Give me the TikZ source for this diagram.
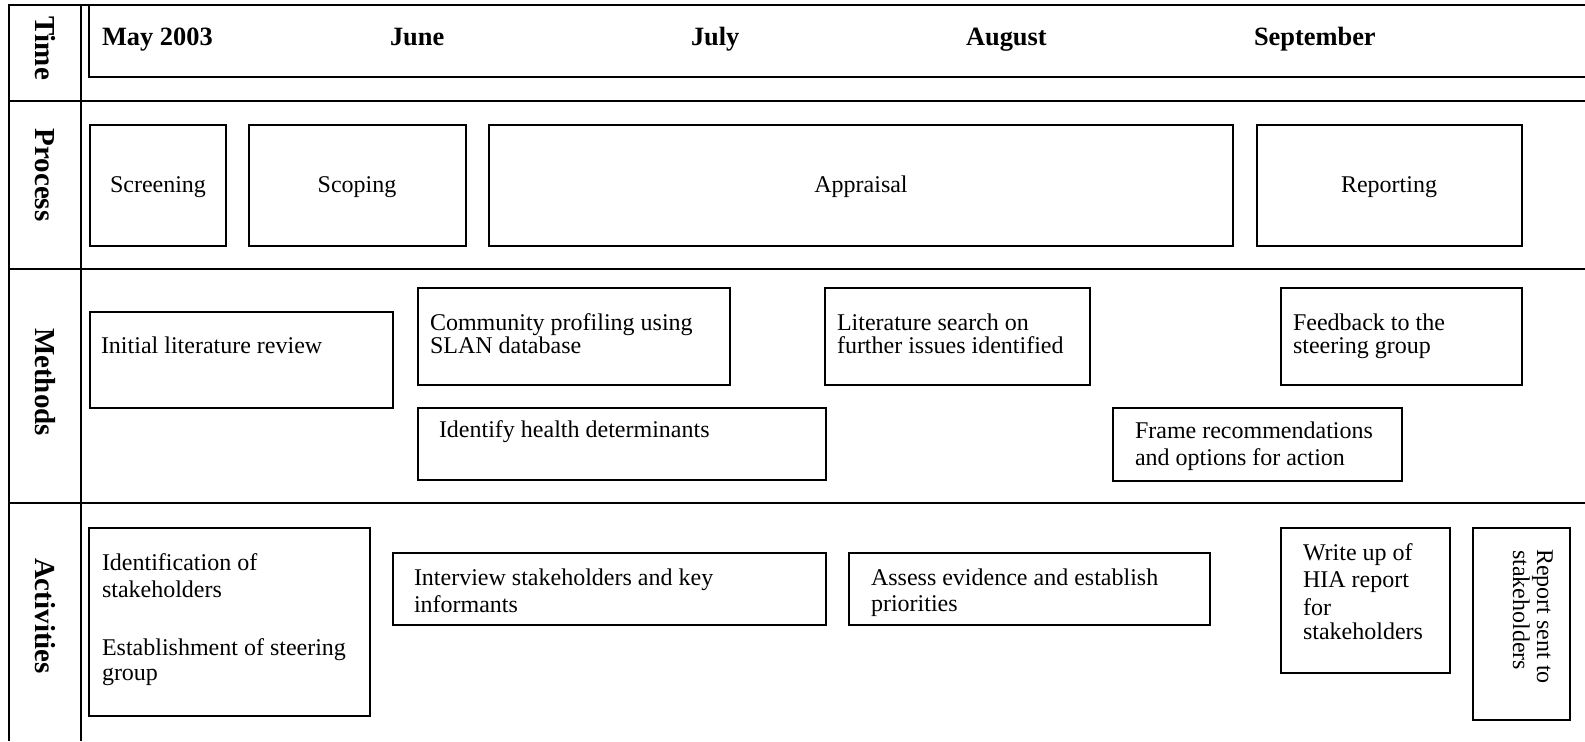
\documentclass[tikz,border=0pt]{standalone}
\usepackage{fontspec}
\setmainfont{Liberation Serif}
\newcommand{\mkbox}[5]{\node[bx, minimum width={(#4-#2)*0.5pt}, minimum height={(#5-#3)*0.5pt}] (#1) at ({(#2+#4)/2},{(#3+#5)/2}) {};}
\begin{document}
\begin{tikzpicture}[x=0.5pt,y=-0.5pt, line width=1pt,
  bx/.style={draw, rectangle, inner sep=0pt, outer sep=0pt},
  txt/.style={inner sep=0pt, anchor=base west, font=\fontsize{12}{14}\selectfont},
  hd/.style={inner sep=0pt, anchor=base west, font=\fontsize{13.2}{15}\selectfont\bfseries},
  lab/.style={inner sep=0pt, rotate=-90, font=\fontsize{14.5}{16}\selectfont\bfseries},
  ctr/.style={inner sep=0pt, anchor=base, font=\fontsize{12}{14}\selectfont},
  rot/.style={inner sep=0pt, anchor=base west, rotate=-90, font=\fontsize{12}{14}\selectfont}]
\useasboundingbox (0,0) rectangle (1585,741);
% grid
\draw (1585,5) -- (9,5) -- (9,741);
\draw (81,5) -- (81,741);
\draw (9,101) -- (1585,101);
\draw (9,269) -- (1585,269);
\draw (9,503) -- (1585,503);
\draw (1585,77) -- (89,77) -- (89,5);
% row labels
\node[lab] (lTime) at (45,48) {Time};
\node[lab] (lProc) at (45,175) {Process};
\node[lab] (lMeth) at (45,382) {Methods};
\node[lab] (lAct) at (45,616) {Activities};
% months
\node[hd] (mMay) at (101,45) {May 2003};
\node[hd] (mJun) at (389,45) {June};
\node[hd] (mJul) at (690,45) {July};
\node[hd] (mAug) at (965,45) {August};
\node[hd] (mSep) at (1253,45) {September};
% process
\mkbox{scr}{90}{125}{226}{246}
\mkbox{scp}{249}{125}{466}{246}
\mkbox{app}{489}{125}{1233}{246}
\mkbox{rep}{1257}{125}{1522}{246}
\node[ctr] (tscr) at (158,192) {Screening};
\node[ctr] (tscp) at (357,192) {Scoping};
\node[ctr] (tapp) at (861,192) {Appraisal};
\node[ctr] (trep) at (1389,192) {Reporting};
% methods
\mkbox{ilr}{90}{312}{393}{408}
\mkbox{cpf}{418}{288}{730}{385}
\mkbox{lsf}{825}{288}{1090}{385}
\mkbox{fbk}{1281}{288}{1522}{385}
\mkbox{ihd}{418}{408}{826}{480}
\mkbox{frm}{1113}{408}{1402}{481}
\node[txt] (tilr) at (100,353) {Initial literature review};
\node[txt] (tcpf1) at (429,330) {Community profiling using};
\node[txt] (tcpf2) at (429,353) {SLAN database};
\node[txt] (tlsf1) at (836,330) {Literature search on};
\node[txt] (tlsf2) at (836,353) {further issues identified};
\node[txt] (tfbk1) at (1292,330) {Feedback to the};
\node[txt] (tfbk2) at (1292,353) {steering group};
\node[txt] (tihd) at (438,437) {Identify health determinants};
\node[txt] (tfrm1) at (1134,438) {Frame recommendations};
\node[txt] (tfrm2) at (1134,465) {and options for action};
% activities
\mkbox{ids}{89}{528}{370}{716}
\mkbox{ivw}{393}{553}{826}{625}
\mkbox{ass}{849}{553}{1210}{625}
\mkbox{wup}{1281}{528}{1450}{673}
\mkbox{rss}{1473}{528}{1570}{720}
\node[txt] (tids1) at (101,570) {Identification of};
\node[txt] (tids2) at (101,597) {stakeholders};
\node[txt] (tids3) at (101,655) {Establishment of steering};
\node[txt] (tids4) at (101,680) {group};
\node[txt] (tivw1) at (413,585) {Interview stakeholders and key};
\node[txt] (tivw2) at (413,612) {informants};
\node[txt] (tass1) at (870,585) {Assess evidence and establish};
\node[txt] (tass2) at (870,611) {priorities};
\node[txt] (twup1) at (1302,560) {Write up of};
\node[txt] (twup2) at (1302,587) {HIA report};
\node[txt] (twup3) at (1302,615) {for};
\node[txt] (twup4) at (1302,639) {stakeholders};
\node[rot] (trss1) at (1537,548) {Report sent to};
\node[rot] (trss2) at (1513,549) {stakeholders};
\end{tikzpicture}
\end{document}
